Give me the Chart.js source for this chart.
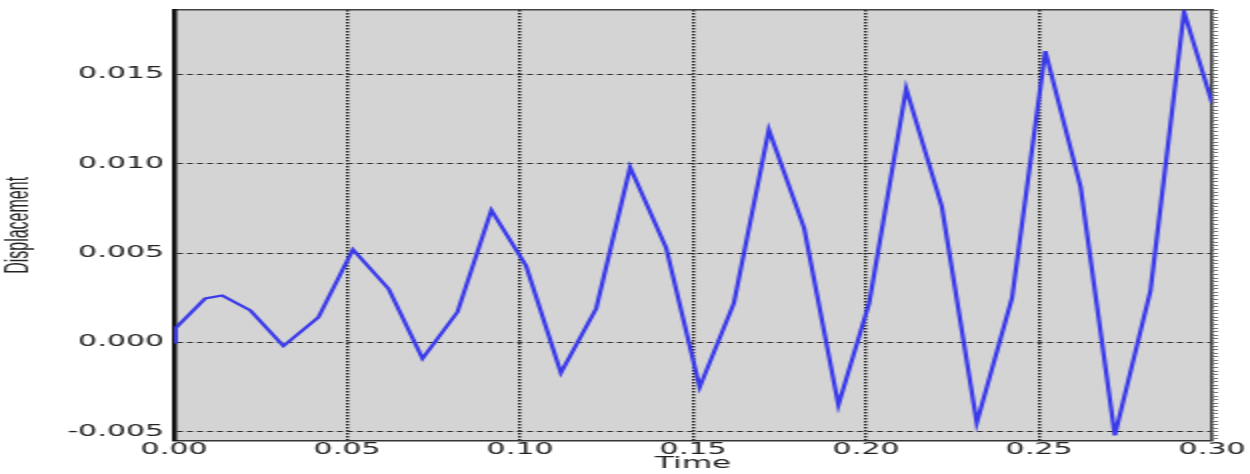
<!DOCTYPE html>
<html>
<head>
<meta charset="utf-8">
<script src="https://cdn.jsdelivr.net/npm/chart.js@4.4.1/dist/chart.umd.min.js"></script>
<style>
  html, body { margin: 0; padding: 0; background: #fff; overflow: hidden; }
  /* the original picture is stretched about 2x sideways, so the canvas is too */
  #dispChart { width: 1250px; height: 474px; display: block; }
</style>
</head>
<body>
<canvas id="dispChart" width="625" height="474" style="width:1250px;height:474px"></canvas>
<script>
// time (s) and displacement
const timeValues = [0, 0.0004, 0.009, 0.0139, 0.022, 0.0316, 0.0417, 0.0517, 0.062, 0.0718,
    0.0819, 0.0917, 0.1017, 0.1118, 0.122, 0.1318, 0.1422, 0.1519, 0.1618, 0.1719,
    0.1821, 0.192, 0.2009, 0.2116, 0.2219, 0.232, 0.2422, 0.2518, 0.262, 0.2719,
    0.2822, 0.2919, 0.300];
const displacement = [0, 0.0008, 0.00246, 0.00263, 0.0018, -0.0002, 0.0014, 0.0052, 0.003, -0.0009,
    0.0017, 0.0074, 0.0043, -0.0017, 0.0019, 0.0098, 0.0053, -0.0025, 0.0022, 0.0119,
    0.0064, -0.0035, 0.0022, 0.0142, 0.0076, -0.0045, 0.0025, 0.0163, 0.0087, -0.0052,
    0.0029, 0.0185, 0.0134];
const xTickStep = 0.05;
const yTickStep = 0.005;
const yMinorStep = 0.0002;

const points = timeValues.map((t, i) => ({ x: t, y: displacement[i] }));

// grey plot background
const plotBg = {
    id: 'plotBg',
    beforeDraw(chart) {
        const a = chart.chartArea;
        const c = chart.ctx;
        c.save();
        c.fillStyle = '#d4d4d4';
        c.fillRect(a.left, a.top, a.right - a.left, a.bottom - a.top);
        c.restore();
    }
};

const xFont = { family: 'DejaVu Sans', size: 15, lineHeight: 1 };
const yFont = { family: 'DejaVu Sans', size: 15, lineHeight: 0.1 };
const titleFont = { family: 'DejaVu Sans', size: 15.5, lineHeight: 0.5 };

let ctx = document.getElementById('dispChart').getContext('2d');
let myChart = new Chart(ctx, {
    type: 'line',
    data: {
        datasets: [{
            data: points,
            borderColor: '#3a3aea',
            borderWidth: 2.2,
            pointRadius: 0,
            tension: 0,
            fill: false
        }]
    },
    options: {
        responsive: false,
        animation: false,
        layout: { padding: { left: 0, right: 11, top: 2, bottom: 0 } },
        plugins: { legend: { display: false }, tooltip: { enabled: false } },
        scales: {
            x: {
                type: 'linear',
                position: 'bottom',
                min: 0,
                max: 0.3,
                ticks: {
                    stepSize: xTickStep,
                    includeBounds: false,
                    color: '#222',
                    font: xFont,
                    padding: 2.25,
                    maxRotation: 0,
                    callback: (v) => v.toFixed(2)
                },
                grid: { color: '#1e1e1e', lineWidth: 1.5, drawTicks: false },
                border: { color: '#333', width: 1.5, dash: [1.5, 1.5] },
                title: {
                    display: true,
                    text: 'Time',
                    color: '#222',
                    font: titleFont,
                    padding: { top: 0, bottom: 6 }
                }
            },
            x2: {
                type: 'linear',
                position: 'top',
                min: 0,
                max: 0.3,
                ticks: { display: false },
                grid: { display: false },
                border: { color: '#444', width: 1.5 }
            },
            y: {
                min: -0.0055,
                max: 0.0186,
                ticks: {
                    stepSize: yTickStep,
                    includeBounds: false,
                    color: '#222',
                    font: yFont,
                    padding: 5,
                    callback: (v) => Math.abs(v) < 1e-9 ? '0.000' : v.toFixed(3)
                },
                grid: { color: '#2a2a2a', lineWidth: 1, drawTicks: false },
                border: { color: '#111', width: 2.5, dash: [3, 2] },
                title: {
                    display: true,
                    text: 'Displacement',
                    color: '#222',
                    font: { family: 'Liberation Sans', size: 16, lineHeight: 1.2 },
                    padding: { top: 0, bottom: 9.5 }
                }
            },
            y2: {
                position: 'right',
                min: -0.0055,
                max: 0.0186,
                ticks: { display: false, stepSize: yMinorStep, includeBounds: false },
                grid: {
                    drawOnChartArea: false,
                    drawTicks: true,
                    tickLength: 3,
                    tickColor: '#777',
                    tickWidth: 1
                },
                border: { color: '#444', width: 1.5 }
            }
        }
    },
    plugins: [plotBg]
});
</script>
</body>
</html>
